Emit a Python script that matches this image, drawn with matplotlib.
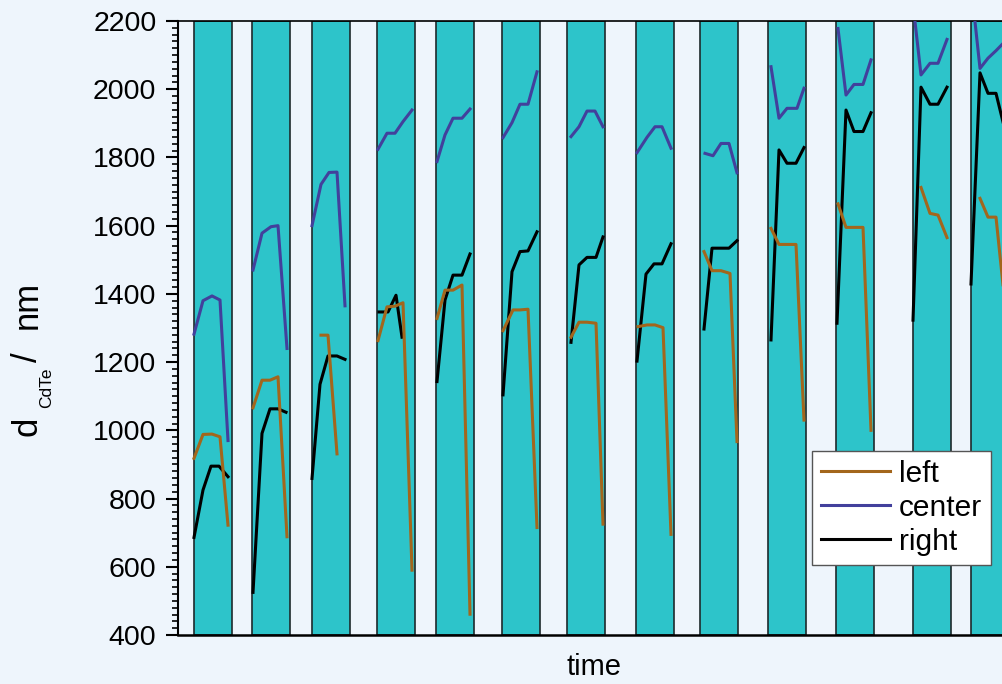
import numpy as np
import matplotlib
matplotlib.use("Agg")
import matplotlib.pyplot as plt
from matplotlib.ticker import MultipleLocator

plt.rcParams['font.family'] = ['Liberation Sans', 'DejaVu Sans']

# deposition windows (start time, arbitrary units)
bar_starts = [16, 74, 134, 199, 258, 324, 389, 458, 522, 590, 658, 735, 793]
bar_width = 38

# thickness readings per window: (times, d_CdTe in nm)
left_t = [[16, 25, 34, 42, 50], [75, 84, 92, 100, 109], [143, 150, 159],
          [200, 209, 217, 225, 234], [259, 267, 275, 284, 292],
          [325, 335, 342, 350, 359], [393, 401, 409, 418, 425],
          [460, 469, 477, 485, 493], [526, 534, 543, 552, 559],
          [593, 601, 609, 618, 626], [660, 668, 676, 685, 693],
          [743, 752, 760, 769], [802, 810, 818, 827]]
left_d = [[918, 988, 989, 981, 722], [1066, 1147, 1147, 1157, 688], [1279, 1279, 931],
          [1263, 1362, 1364, 1374, 590], [1328, 1411, 1411, 1426, 461],
          [1292, 1353, 1353, 1355, 715], [1273, 1317, 1317, 1314, 725],
          [1304, 1309, 1309, 1301, 695], [1524, 1468, 1468, 1460, 967],
          [1592, 1545, 1545, 1545, 1030], [1664, 1595, 1595, 1595, 1000],
          [1712, 1636, 1631, 1565], [1680, 1625, 1625, 1370]]

center_t = [[16, 25, 34, 42, 50], [75, 84, 93, 100, 109], [134, 143, 151, 159, 167],
            [200, 209, 217, 225, 234], [259, 267, 275, 284, 292],
            [325, 334, 342, 350, 359], [393, 401, 409, 417, 425],
            [459, 469, 477, 484, 493], [527, 535, 543, 551, 559],
            [593, 601, 609, 619, 626], [660, 668, 676, 685, 693],
            [737, 743, 752, 760, 769], [797, 802, 810, 818, 827]]
center_d = [[1282, 1380, 1394, 1382, 970], [1470, 1578, 1597, 1600, 1240],
            [1600, 1721, 1756, 1757, 1365], [1824, 1871, 1871, 1905, 1939],
            [1788, 1866, 1915, 1915, 1942], [1858, 1902, 1956, 1956, 2051],
            [1861, 1890, 1936, 1936, 1890], [1814, 1859, 1890, 1890, 1827],
            [1812, 1805, 1841, 1841, 1755], [2066, 1915, 1944, 1944, 2003],
            [2178, 1983, 2014, 2014, 2086], [2198, 2042, 2076, 2076, 2146],
            [2198, 2061, 2091, 2113, 2140]]

right_t = [[16, 25, 33, 41, 50], [75, 84, 92, 100, 108], [134, 142, 150, 159, 167],
           [201, 210, 218, 224], [259, 267, 275, 284, 292],
           [325, 334, 342, 350, 359], [393, 401, 409, 418, 425],
           [459, 468, 476, 484, 493], [526, 534, 543, 551, 559],
           [593, 601, 609, 618, 626], [659, 668, 676, 685, 693],
           [735, 743, 752, 760, 769], [793, 802, 810, 818, 827]]
right_d = [[686, 825, 895, 895, 864], [525, 991, 1063, 1063, 1053],
           [859, 1135, 1218, 1218, 1208], [1347, 1347, 1396, 1273],
           [1143, 1382, 1455, 1455, 1517], [1104, 1465, 1524, 1526, 1582],
           [1258, 1485, 1507, 1507, 1567], [1203, 1458, 1488, 1488, 1547],
           [1297, 1534, 1534, 1534, 1556], [1265, 1822, 1783, 1783, 1829],
           [1314, 1939, 1876, 1876, 1931], [1323, 2006, 1956, 1956, 2006],
           [1429, 2048, 1988, 1988, 1880]]


def join_segments(ts, ds):
    # one line per series, NaN breaks between windows
    xs, ys = [], []
    for t, d in zip(ts, ds):
        xs += list(t) + [np.nan]
        ys += list(d) + [np.nan]
    return np.array(xs, float), np.array(ys, float)


bg = '#eef5fc'
fig = plt.figure(figsize=(10.03, 6.84), dpi=100, facecolor=bg)
ax = fig.add_axes([178 / 1003, 1 - 635 / 684, 832 / 1003, 614 / 684])
ax.set_facecolor(bg)

ax.bar(bar_starts, 1800, width=bar_width, bottom=400, align='edge',
       color='#2dc4ca', edgecolor='#1e2a2c', linewidth=1.2, zorder=1)

lw = 2.2
x, y = join_segments(right_t, right_d)
l_right, = ax.plot(x, y, color='black', lw=lw, zorder=3, label='right')
x, y = join_segments(center_t, center_d)
l_center, = ax.plot(x, y, color='#42409c', lw=lw, zorder=3, label='center')
x, y = join_segments(left_t, left_d)
l_left, = ax.plot(x, y, color='#a3661c', lw=lw, zorder=4, label='left')

ax.set_xlim(0, 832)
ax.set_ylim(400, 2200)
ax.yaxis.set_major_locator(MultipleLocator(200))
ax.yaxis.set_minor_locator(MultipleLocator(20))
ax.tick_params(axis='y', which='major', direction='out', length=8.5, width=1.5,
               labelsize=20.5, pad=7)
ax.tick_params(axis='y', which='minor', direction='out', length=4.5, width=1.2)
ax.set_xticks([])
ax.spines['right'].set_visible(False)
ax.spines['left'].set_linewidth(1.5)
ax.spines['top'].set_linewidth(1.2)
ax.spines['bottom'].set_linewidth(1.8)

ax.set_xlabel('time', fontsize=21, labelpad=13)

# y label built from pieces so the subscript stays small
ylab = dict(rotation=90, rotation_mode='anchor', ha='left', va='baseline')
fig.text(37 / 1003, 1 - 436 / 684, 'd', fontsize=25, **ylab)
fig.text(51 / 1003, 1 - 408 / 684, 'CdTe', fontsize=12.5, **ylab)
fig.text(37 / 1003, 1 - 362 / 684, '/', fontsize=25, **ylab)
fig.text(37 / 1003, 1 - 329 / 684, 'nm', fontsize=25, **ylab)

leg = ax.legend(handles=[l_left, l_center, l_right], loc='upper left',
                bbox_to_anchor=(0.762, 0.2997), borderaxespad=0, fontsize=21.5,
                handlelength=2.3, handletextpad=0.3, labelspacing=0.2,
                borderpad=0.3, fancybox=False, framealpha=1)
leg.get_frame().set_edgecolor('#555555')
leg.get_frame().set_linewidth(1.0)

fig.savefig('out.png', dpi=100, facecolor=bg)
